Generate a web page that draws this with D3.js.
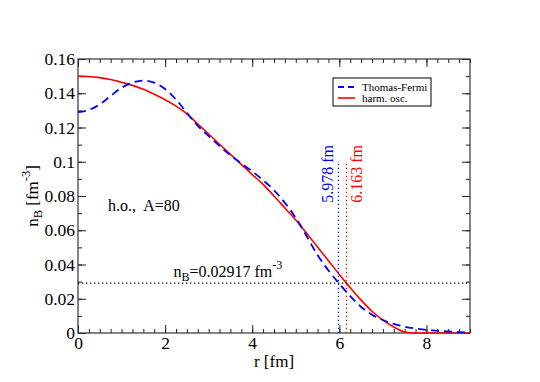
<!DOCTYPE html>
<html>
<head>
<meta charset="utf-8">
<script src="https://cdn.jsdelivr.net/npm/d3@7"></script>
<style>
  body { margin: 0; background: #fff; }
  svg, svg text { font-family: "Liberation Serif", "Times New Roman", Times, "DejaVu Serif", serif; }
</style>
</head>
<body>
<script>
// radius grid [fm]
const radius = [0, 0.25, 0.5, 0.75, 1, 1.25, 1.5, 1.75, 2, 2.25, 2.5, 2.75, 3, 3.25, 3.5, 3.75,
  4, 4.25, 4.5, 4.75, 5, 5.25, 5.5, 5.75, 6, 6.25, 6.5, 6.75, 7, 7.25, 7.5, 7.75,
  8, 8.25, 8.5, 8.75, 9];

// Thomas-Fermi density n_B [fm^-3]
const thomasFermi = [0.1290, 0.1303, 0.1335, 0.1385, 0.1432, 0.1462, 0.1474, 0.1462,
  0.1425, 0.1364, 0.1285, 0.1210, 0.1150, 0.1092, 0.1038, 0.0990,
  0.0944, 0.0892, 0.0834, 0.0760, 0.0672, 0.0565, 0.0455, 0.0365,
  0.0288, 0.0215, 0.0152, 0.0107, 0.0076, 0.0053, 0.0037, 0.0026,
  0.0018, 0.0013, 0.0009, 0.0005, 0.0002];

// harmonic oscillator density n_B [fm^-3]
const harmOsc = [0.1500, 0.1498, 0.1491, 0.1480, 0.1464, 0.1446, 0.1423, 0.1394,
  0.1362, 0.1325, 0.1280, 0.1220, 0.1162, 0.1102, 0.1043, 0.0985,
  0.0925, 0.0868, 0.0800, 0.0730, 0.0660, 0.0582, 0.0502, 0.0422,
  0.0342, 0.0265, 0.0192, 0.0127, 0.0075, 0.0035, 0.0006, 0,
  0, 0, 0, 0, 0];

const xTicks = [0, 2, 4, 6, 8];
const yTicks = [0, 0.02, 0.04, 0.06, 0.08, 0.1, 0.12, 0.14, 0.16];
const yTickLabels = ["0", "0.02", "0.04", "0.06", "0.08", "0.1", "0.12", "0.14", "0.16"];

const cutDensity = 0.02917;
const cutRadius = [5.978, 6.163];
const cutLabels = ["5.978 fm", "6.163 fm"];
const seriesNames = ["Thomas-Fermi", "harm. osc."];

const W = 540, H = 382;
const margin = { top: 59, right: 70, bottom: 49, left: 78 };
const w = W - margin.left - margin.right;
const h = H - margin.top - margin.bottom;

const serif = '"Liberation Serif", "Times New Roman", Times, "DejaVu Serif", serif';
const blue = "#0000ff", red = "#ff0000";

const svg = d3.select("body").append("svg")
  .attr("width", W)
  .attr("height", H)
  .attr("font-family", serif);

const g = svg.append("g").attr("transform", `translate(${margin.left},${margin.top})`);

const x = d3.scaleLinear().domain([0, 9]).range([0, w]);
const y = d3.scaleLinear().domain([0, 0.16]).range([h, 0]);

// ticks (inward, all four sides)
const minorX = d3.range(0, 9.001, 0.25);
const minorY = d3.range(0, 0.1601, 0.01);

function styleAxis(sel) {
  sel.attr("font-family", serif);
  sel.select(".domain").remove();
  sel.selectAll(".tick line").attr("stroke", "#222");
  sel.selectAll("text").attr("fill", "#000");
}

g.append("g").attr("transform", `translate(0,${h})`)
  .call(d3.axisBottom(x).tickValues(minorX).tickSize(-4).tickFormat(""))
  .call(styleAxis);
g.append("g").attr("transform", `translate(0,${h})`)
  .call(d3.axisBottom(x).tickValues(xTicks).tickSize(-8).tickPadding(4).tickFormat(d3.format("d")))
  .call(styleAxis)
  .attr("font-size", 17.5);

g.append("g")
  .call(d3.axisTop(x).tickValues(minorX).tickSize(-4).tickFormat(""))
  .call(styleAxis);
g.append("g")
  .call(d3.axisTop(x).tickValues(xTicks).tickSize(-8).tickFormat(""))
  .call(styleAxis);

g.append("g")
  .call(d3.axisLeft(y).tickValues(minorY).tickSize(-4).tickFormat(""))
  .call(styleAxis);
g.append("g")
  .call(d3.axisLeft(y).tickValues(yTicks).tickSize(-8).tickPadding(3)
    .tickFormat((d, i) => yTickLabels[i]))
  .call(styleAxis)
  .attr("font-size", 17.5);

g.append("g").attr("transform", `translate(${w},0)`)
  .call(d3.axisRight(y).tickValues(minorY).tickSize(-4).tickFormat(""))
  .call(styleAxis);
g.append("g").attr("transform", `translate(${w},0)`)
  .call(d3.axisRight(y).tickValues(yTicks).tickSize(-8).tickFormat(""))
  .call(styleAxis);

// frame
g.append("rect")
  .attr("width", w)
  .attr("height", h)
  .attr("fill", "none")
  .attr("stroke", "#333")
  .attr("stroke-width", 1.2);

// curves
const line = d3.line()
  .x((d, i) => x(radius[i]))
  .y(d => y(d))
  .curve(d3.curveMonotoneX);

g.append("path")
  .datum(harmOsc)
  .attr("d", line)
  .attr("fill", "none")
  .attr("stroke", red)
  .attr("stroke-width", 1.6);

g.append("path")
  .datum(thomasFermi)
  .attr("d", line)
  .attr("fill", "none")
  .attr("stroke", blue)
  .attr("stroke-width", 1.8)
  .attr("stroke-dasharray", "8,5");

// horizontal density cut
g.append("line")
  .attr("x1", 0).attr("x2", w)
  .attr("y1", y(cutDensity)).attr("y2", y(cutDensity))
  .attr("stroke", "#000")
  .attr("stroke-width", 1.2)
  .attr("stroke-dasharray", "1.3,2.7");

// vertical radius markers
const cutColors = [blue, red];
g.selectAll("line.cut")
  .data(cutRadius)
  .enter()
  .append("line")
  .attr("class", "cut")
  .attr("x1", d => x(d)).attr("x2", d => x(d))
  .attr("y1", y(0)).attr("y2", y(0.1))
  .attr("stroke", (d, i) => cutColors[i])
  .attr("stroke-width", 1.2)
  .attr("stroke-dasharray", "1.3,2.7");

const labelOffset = [-5.5, 16];
g.selectAll("text.cut")
  .data(cutRadius)
  .enter()
  .append("text")
  .attr("class", "cut")
  .attr("transform", (d, i) => `translate(${x(d) + labelOffset[i]},${y(0.076)}) rotate(-90)`)
  .attr("fill", (d, i) => cutColors[i])
  .attr("font-size", 16)
  .text((d, i) => cutLabels[i]);

// annotations
g.append("text")
  .attr("x", x(0.69))
  .attr("y", y(0.0711))
  .attr("font-size", 16)
  .text("h.o.,\u00a0 A=80");

const nb = g.append("text")
  .attr("x", x(2.19))
  .attr("y", y(0.0327))
  .attr("font-size", 16);
nb.append("tspan").text("n");
nb.append("tspan").attr("dy", 4).attr("font-size", 12).text("B");
nb.append("tspan").attr("dy", -4).text("=" + cutDensity + " fm");
nb.append("tspan").attr("dy", -8).attr("font-size", 12).text("-3");

// axis titles
g.append("text")
  .attr("x", w / 2)
  .attr("y", h + 34)
  .attr("text-anchor", "middle")
  .attr("font-size", 17)
  .text("r [fm]");

const yt = g.append("text")
  .attr("transform", `translate(${-40},${h / 2}) rotate(-90)`)
  .attr("text-anchor", "middle")
  .attr("font-size", 17);
yt.append("tspan").text("n");
yt.append("tspan").attr("dy", 4).attr("font-size", 12.5).text("B");
yt.append("tspan").attr("dy", -4).text(" [fm");
yt.append("tspan").attr("dy", -8).attr("font-size", 12.5).text("-3");
yt.append("tspan").attr("dy", 8).text("]");

// legend
const lg = g.append("g").attr("transform", `translate(${333 - margin.left},${78 - margin.top})`);
lg.append("rect")
  .attr("width", 98).attr("height", 28)
  .attr("fill", "#fff")
  .attr("stroke", "#000")
  .attr("stroke-width", 1);
const legendStyles = [
  { color: blue, dash: "6,4", width: 1.8 },
  { color: red, dash: null, width: 1.6 }
];
seriesNames.forEach((name, i) => {
  const yy = 9 + i * 11;
  lg.append("line")
    .attr("x1", 5).attr("x2", 22)
    .attr("y1", yy).attr("y2", yy)
    .attr("stroke", legendStyles[i].color)
    .attr("stroke-width", legendStyles[i].width)
    .attr("stroke-dasharray", legendStyles[i].dash);
  lg.append("text")
    .attr("x", 29)
    .attr("y", yy + 4)
    .attr("font-size", 11)
    .text(name);
});
</script>
</body>
</html>
